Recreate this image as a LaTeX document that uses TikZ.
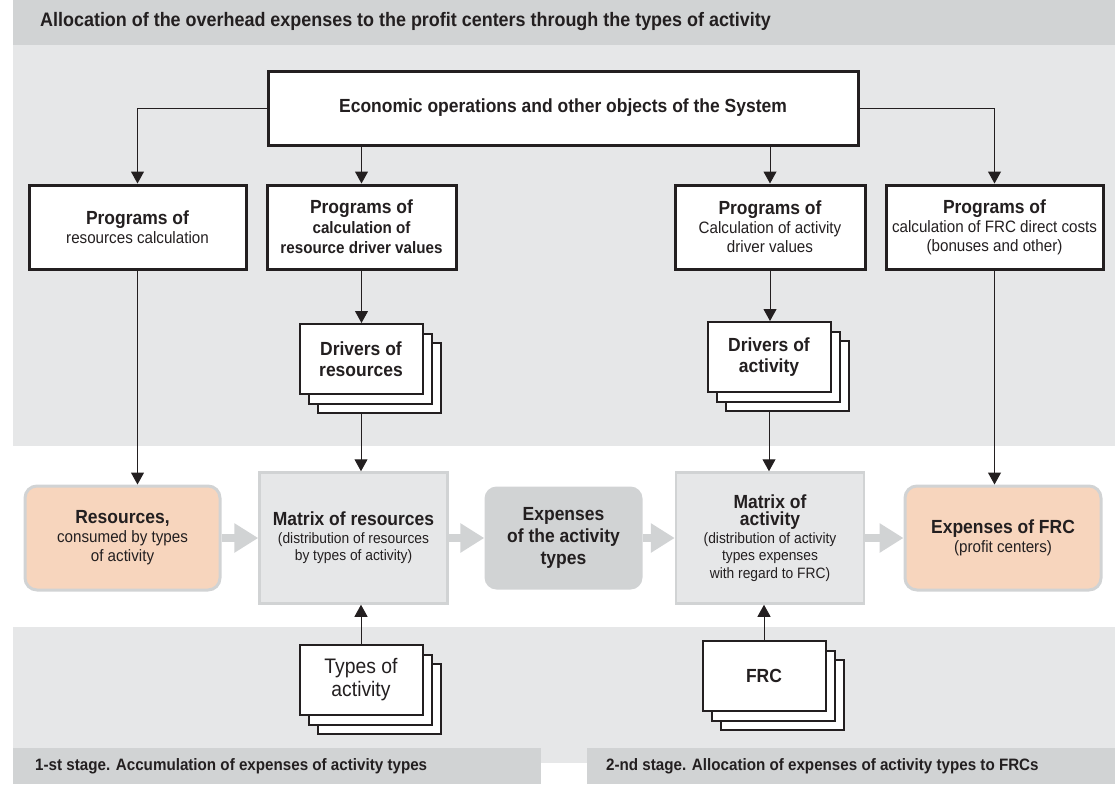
\documentclass[tikz,border=0pt]{standalone}
\usepackage{fontspec}
\setmainfont{Liberation Sans}[FakeStretch=0.92]
\usetikzlibrary{calc,arrows.meta,shadows}
\definecolor{fond}{HTML}{E6E7E8}
\definecolor{bande}{HTML}{D1D3D4}
\definecolor{peche}{HTML}{F7D5BD}
\definecolor{encre}{HTML}{231F20}
\newcommand{\titlefont}{\fontsize{19.5}{22}\bfseries\selectfont}
\newcommand{\stagefont}{\fontsize{16.5}{19}\bfseries\selectfont}
\newcommand{\ecofont}{\fontsize{19}{22}\bfseries\selectfont}
\newcommand{\hdfont}{\fontsize{19}{21}\bfseries\selectfont}
\newcommand{\subfont}{\fontsize{16.5}{19}\selectfont}
\newcommand{\smfont}{\fontsize{15}{17.5}\selectfont}
\newcommand{\cardfont}{\fontsize{21}{23}\selectfont}
\tikzstyle{progbox} = [rectangle, draw=encre, line width=3pt, fill=white, align=center, minimum height=84pt, font=\subfont]
\tikzstyle{cardbox} = [rectangle, draw=encre, line width=2pt, fill=white, align=center, minimum width=123pt, minimum height=70pt, double copy shadow={shadow xshift=9pt, shadow yshift=-9.5pt, draw=encre, fill=white, line width=2pt}]
\tikzstyle{matrixbox} = [rectangle, draw=bande, line width=2.5pt, fill=fond, align=center, minimum width=188pt, minimum height=131pt, font=\smfont]
\tikzstyle{peachbox} = [rectangle, rounded corners=12pt, draw=bande, line width=3pt, fill=peche, align=center, minimum width=195pt, minimum height=104pt, font=\subfont]
\tikzstyle{greybox} = [rectangle, rounded corners=12pt, fill=bande, align=center, minimum width=158pt, minimum height=103pt, font=\fontsize{19}{22}\bfseries\selectfont]
\tikzstyle{link} = [encre, line width=1pt, -{Triangle[width=13pt,length=12pt]}]
\tikzstyle{flow} = [bande, line width=7.5pt, -{Triangle[width=28pt,length=24pt]}]

\begin{document}
\begin{tikzpicture}[x=1pt, y=-1pt, every node/.append style={text=encre}]

    \useasboundingbox (0,0) rectangle (1115,784);
    \fill[bande] (13,0) rectangle (1115,45);
    \fill[fond] (13,45) rectangle (1115,446);
    \fill[fond] (13,627) rectangle (1115,763);
    \fill[bande] (13,748) rectangle (541,784);
    \fill[bande] (587,748) rectangle (1115,784);

    \node (title) [anchor=west, inner sep=0pt, font=\titlefont] at (40,22) {Allocation of the overhead expenses to the profit centers through the types of activity};
    \node (stage1) [anchor=west, inner sep=0pt, font=\stagefont] at (35,766) {1-st stage. Accumulation of expenses of activity types};
    \node (stage2) [anchor=west, inner sep=0pt, font=\stagefont] at (606,766) {2-nd stage. Allocation of expenses of activity types to FRCs};

    \node (eco) [progbox, minimum width=590pt, minimum height=74pt, font=\ecofont] at (563,108) {Economic operations and other objects of the System};

    \node (pres) [progbox, minimum width=217pt] at (137.5,227) {{\hdfont Programs of}\\resources calculation};
    \node (pdrv) [progbox, minimum width=189pt, font=\fontsize{16.5}{20}\bfseries\selectfont] at (361.5,227) {{\hdfont Programs of}\\calculation of\\resource driver values};
    \node (pact) [progbox, minimum width=190pt] at (770,227) {{\hdfont Programs of}\\Calculation of activity\\driver values};
    \node (pfrc) [progbox, minimum width=217pt] at (994.5,227) {{\hdfont Programs of}\\calculation of FRC direct costs\\(bonuses and other)};

    \node (drvres) [cardbox, font=\hdfont] at (361,359) {Drivers of\\resources};
    \node (drvact) [cardbox, font=\hdfont] at (769,357) {Drivers of\\activity};

    \node (res) [peachbox] at (122.5,538) {{\hdfont Resources,}\\consumed by types\\of activity};
    \node (mres) [matrixbox] at (353.5,538) {{\hdfont Matrix of resources}\\(distribution of resources\\by types of activity)};
    \node (exp) [greybox] at (563.5,538) {Expenses\\of the activity\\types};
    \node (mact) [matrixbox] at (770,538) {{\hdfont Matrix of}\\{\hdfont activity}\\(distribution of activity\\types expenses\\with regard to FRC)};
    \node (efrc) [peachbox, minimum width=196pt] at (1003,538) {{\hdfont Expenses of FRC}\\(profit centers)};

    \node (typact) [cardbox, font=\cardfont] at (361,680) {Types of\\activity};
    \node (frc) [cardbox, font=\hdfont] at (764,676) {FRC};

    % from the System
    \draw[link] (eco.west) -| (pres.north);
    \draw[link] (eco.east) -| (pfrc.north);
    \draw[link] (eco.south -| pdrv.north) -- (pdrv.north);
    \draw[link] (eco.south -| pact.north) -- (pact.north);

    % programs down
    \draw[link] (pres.south) -- (pres.south |- res.north);
    \draw[link] (pdrv.south) -- (pdrv.south |- drvres.north);
    \draw[link] (pact.south) -- (pact.south |- drvact.north);
    \draw[link] (pfrc.south) -- (pfrc.south |- efrc.north);
    \draw[link] ($(drvres.south)+(0,19)$) -- (drvres.south |- mres.north);
    \draw[link] ($(drvact.south)+(0,19)$) -- (drvact.south |- mact.north);

    % from below
    \draw[link] (typact.north) -- (typact.north |- mres.south);
    \draw[link] (frc.north) -- (frc.north |- mact.south);

    % main flow
    \draw[flow] (res) -- (mres);
    \draw[flow] (mres) -- (exp);
    \draw[flow] (exp) -- (mact);
    \draw[flow] (mact) -- (efrc);

\end{tikzpicture}
\end{document}
